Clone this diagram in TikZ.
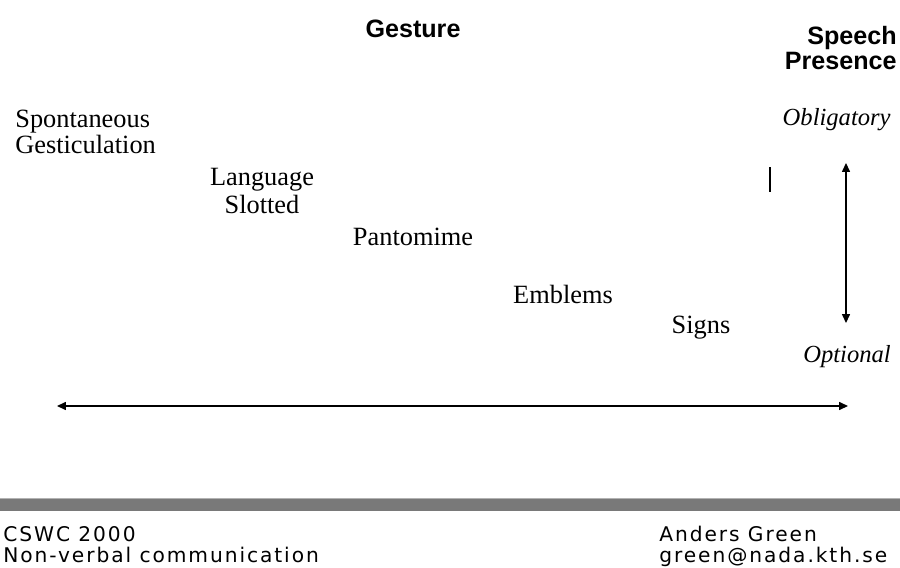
\documentclass[tikz,border=0pt]{standalone}
\usepackage{fontspec}
\setmainfont{Liberation Serif}
\setsansfont{Liberation Sans}
\newfontfamily\footfont[LetterSpace=9.5]{DejaVu Sans}
\usetikzlibrary{arrows.meta}
\tikzset{
  head/.style={font=\sffamily\bfseries\fontsize{14.3}{17}\selectfont, inner sep=0pt, anchor=base},
  cat/.style={font=\fontsize{15}{18}\selectfont, inner sep=0pt, anchor=base},
  pole/.style={font=\itshape\fontsize{14}{17}\selectfont, inner sep=0pt, anchor=base},
  foot/.style={font=\footfont\fontsize{11.5}{14}\selectfont, inner sep=0pt, anchor=base west},
  axis/.style={line width=0.7pt, {Triangle[length=5pt,width=4.5pt]}-{Triangle[length=5pt,width=4.5pt]}}
}
\begin{document}
\begin{tikzpicture}[x=0.02cm,y=-0.02cm]
\useasboundingbox (0,0) rectangle (900,568);
\node[head] (gesture) at (413,37) {Gesture};
\node[head, anchor=base east] (speech) at (897,45) {Speech};
\node[head, anchor=base east] (presence) at (897,70) {Presence};
\node[cat, anchor=base west] (spont1) at (15,127) {Spontaneous};
\node[cat, anchor=base west] (spont2) at (15,153) {Gesticulation};
\node[cat] (lang1) at (262,185) {Language};
\node[cat] (lang2) at (262,213) {Slotted};
\node[cat] (panto) at (413,245) {Pantomime};
\node[cat] (embl) at (563,303) {Emblems};
\node[cat] (signs) at (701,333) {Signs};
\node[pole, anchor=base east] (oblig) at (891,125) {Obligatory};
\node[pole] (optio) at (847,362) {Optional};
\coordinate (tick1) at (770,167);
\coordinate (tick2) at (770,192);
\draw[line width=0.6pt] (tick1) -- (tick2);
\coordinate (vtop) at (846,163);
\coordinate (vbot) at (846,323);
\draw[axis] (vtop) -- (vbot);
\coordinate (hl) at (57,406);
\coordinate (hr) at (848,406);
\draw[axis] (hl) -- (hr);
\fill[gray!95!black] (0,498) rectangle (900,511);
\draw[gray!60, line width=0.6pt] (0,498.5) -- (900,498.5);
\node[foot] (conf) at (3,541) {CSWC 2000};
\node[foot] (topic) at (3,562) {Non-verbal communication};
\node[foot] (author) at (659,541) {Anders Green};
\node[foot] (mail) at (659,562) {green@nada.kth.se};
\end{tikzpicture}
\end{document}
